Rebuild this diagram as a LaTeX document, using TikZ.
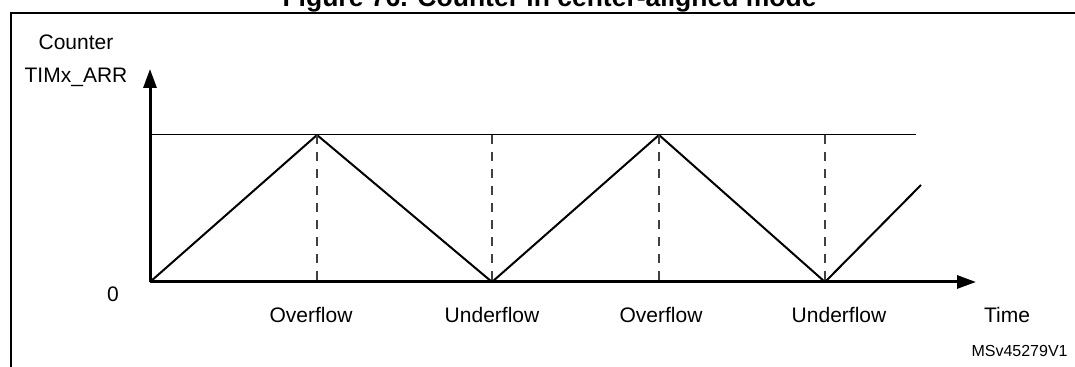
\documentclass[tikz,border=0pt]{standalone}
\usepackage{fontspec}
\setmainfont{Liberation Sans}
\usepackage{xcolor}
\usetikzlibrary{
  arrows.meta,
  positioning,
  calc
}
\definecolor{markgray}{RGB}{64,64,64}
\tikzset{
  frameline/.style={draw=black,line width=1pt},
  axisline/.style={draw=black,line width=1.5pt,-{Triangle[length=9.5pt,width=6.5pt]}},
  waveline/.style={draw=black,line width=1pt,line join=round},
  arrline/.style={draw=black,line width=0.5pt},
  markline/.style={draw=markgray,line width=0.75pt,dash pattern=on 4.5pt off 4pt},
  axislabel/.style={anchor=base,inner sep=0pt,font=\fontsize{10.5}{12}\selectfont},
  eventlabel/.style={axislabel},
  idlabel/.style={anchor=base,inner sep=0pt,font=\fontsize{8}{10}\selectfont},
  titlelabel/.style={anchor=base,inner sep=0pt,font=\fontsize{13.25}{15}\selectfont\bfseries}
}

\begin{document}
\begin{tikzpicture}[x=0.5pt,y=0.5pt]
  \useasboundingbox (0,0) rectangle (1075,367);

  % Title and frame
  \node[titlelabel] (title) at (549.5,360) {Figure 76. Counter in center-aligned mode};
  \draw[frameline] (11,0) -- (11,354) -- (1075,354);

  % Axes
  \coordinate (O) at (150,85);
  \coordinate (ytip) at (150,298);
  \coordinate (xtip) at (976,85);
  \draw[axisline] (O) -- (ytip);
  \draw[axisline] (O) -- (xtip);

  % Auto-reload level
  \coordinate (arrl) at (150,232);
  \coordinate (arrr) at (916,232);
  \draw[arrline] (arrl) -- (arrr);

  % Counter wave
  \coordinate (ov1) at (317,232);
  \coordinate (un1) at (492,85);
  \coordinate (ov2) at (659,232);
  \coordinate (un2) at (825,85);
  \coordinate (wend) at (921,182);
  \draw[waveline] (O) -- (ov1) -- (un1) -- (ov2) -- (un2) -- (wend);

  % Event markers
  \draw[markline] (ov1) -- (ov1 |- O);
  \draw[markline] (un1 |- arrl) -- (un1);
  \draw[markline] (ov2) -- (ov2 |- O);
  \draw[markline] (un2 |- arrl) -- (un2);

  % Labels
  \node[axislabel] (counter) at (76,317) {Counter};
  \node[axislabel] (arrname) at (76,284) {TIMx\_ARR};
  \node[axislabel] (zero) at (113,65) {0};
  \node[eventlabel] (ovlab1) at (311,44) {Overflow};
  \node[eventlabel] (unlab1) at (492,44) {Underflow};
  \node[eventlabel] (ovlab2) at (661,44) {Overflow};
  \node[eventlabel] (unlab2) at (839,44) {Underflow};
  \node[axislabel] (time) at (1007,44) {Time};
  \node[idlabel,anchor=base east] (figid) at (1068,10) {MSv45279V1};
\end{tikzpicture}
\end{document}
